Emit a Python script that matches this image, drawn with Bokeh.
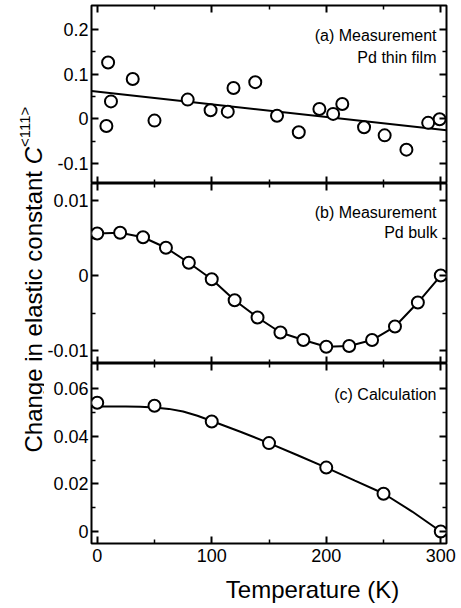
import math
from bokeh.plotting import figure
from bokeh.layouts import column, row
from bokeh.models import Range1d, LinearAxis, Label, FixedTicker
from bokeh.embed import file_html
from bokeh.resources import INLINE

FONT = "Liberation Sans"

# ---------------- data ----------------
film_t = [8, 9.5, 12, 31, 50, 79, 99, 114, 119, 138, 157, 176, 194, 206, 214, 233, 251, 270, 289, 299]
film_v = [-0.016, 0.126, 0.039, 0.089, -0.004, 0.043, 0.019, 0.016, 0.069, 0.082,
          0.007, -0.030, 0.022, 0.011, 0.033, -0.019, -0.037, -0.069, -0.009, -0.001]
fit_t = [-5, 305]
fit_v = [0.062, -0.0255]

bulk_t = [0, 20, 40, 60, 80, 100, 120, 140, 160, 180, 200, 220, 240, 260, 280, 300]
bulk_v = [0.0056, 0.0057, 0.0051, 0.0037, 0.0017, -0.0005, -0.0033, -0.0056,
          -0.0076, -0.0086, -0.0095, -0.0094, -0.0086, -0.0068, -0.0036, 0.0]

calc_t = [0, 50, 100, 150, 200, 250, 300]
calc_v = [0.0542, 0.0529, 0.0463, 0.0372, 0.0269, 0.0159, 0.0]
curve_t = [0, 25, 37.5, 50, 62.5, 75, 87.5, 100, 125, 150, 175, 200, 225, 250, 275, 300]
curve_v = [0.0526, 0.0526, 0.0525, 0.0522, 0.0516, 0.0505, 0.0487, 0.0465, 0.0420,
           0.0372, 0.0321, 0.0269, 0.0214, 0.0160, 0.0084, 0.0]

x_ticks = [0, 100, 200, 300]
x_tick_labels = ["0", "100", "200", "300"]
x_minor = [50, 150, 250]

a_ticks = [-0.1, 0, 0.1, 0.2]
a_tick_labels = ["-0.1", "0", "0.1", "0.2"]
a_minor = [-0.05, 0.05, 0.15]

b_ticks = [-0.01, 0, 0.01]
b_tick_labels = ["-0.01", "0", "0.01"]
b_minor = [-0.005, 0.005]

c_ticks = [0, 0.02, 0.04, 0.06]
c_tick_labels = ["0", "0.02", "0.04", "0.06"]
c_minor = [0.01, 0.03, 0.05]

x_label = "Temperature (K)"
y_label_main = "Change in elastic constant "
y_label_sym = "C"
y_label_sup = "<111>"

# ---------------- layout constants ----------------
FRAME_W = 356
LEFT = 46
RIGHT = 10
STRIP_W = 44
TOTAL_H = 607
TICK_FS = "18px"
ANN_FS = "16px"
MAJ_LEN = 7
MIN_LEN = 4


def base_axis(ax):
    ax.axis_line_color = None
    ax.major_tick_out = 0
    ax.minor_tick_out = 0
    ax.major_tick_line_width = 2
    ax.major_tick_line_color = "black"
    ax.minor_tick_line_color = "black"
    ax.major_label_text_font = FONT
    ax.major_label_text_color = "black"


def labeled_axis(ticks, minor, labels, standoff):
    ax = LinearAxis(ticker=FixedTicker(ticks=ticks, minor_ticks=minor))
    base_axis(ax)
    ax.major_tick_in = MAJ_LEN
    ax.minor_tick_in = MIN_LEN
    ax.minor_tick_line_width = 1.5
    ax.major_label_text_font_size = TICK_FS
    ax.major_label_standoff = standoff
    ax.major_label_overrides = {t: l for t, l in zip(ticks, labels)}
    return ax


def tick_only_axes(ticks, minor):
    # label-free axes: tick marks given as minor ticks (major list empty)
    out = []
    for pos, length, lw in ((ticks, MAJ_LEN, 2), (minor, MIN_LEN, 1.5)):
        ax = LinearAxis(ticker=FixedTicker(ticks=[], minor_ticks=pos))
        base_axis(ax)
        ax.major_tick_in = 0
        ax.minor_tick_in = length
        ax.minor_tick_line_width = lw
        ax.major_label_standoff = 0
        out.append(ax)
    return out


def make_panel(height, y0, y1, yt, ylab, ymin, top_border, bottom_border, show_x):
    p = figure(width=LEFT + FRAME_W + RIGHT, height=height,
               x_range=Range1d(-5, 305), y_range=Range1d(y0, y1),
               toolbar_location=None, output_backend="svg",
               x_axis_location=None, y_axis_location=None,
               min_border_left=LEFT, min_border_right=RIGHT,
               min_border_top=top_border, min_border_bottom=bottom_border)
    p.grid.visible = False
    p.outline_line_color = "black"
    p.outline_line_width = 2
    p.outline_line_alpha = 1
    p.background_fill_color = "white"
    p.border_fill_color = "white"

    p.add_layout(labeled_axis(yt, ymin, ylab, 3), "left")
    for ax in tick_only_axes(yt, ymin):
        p.add_layout(ax, "right")
    for ax in tick_only_axes(x_ticks, x_minor):
        p.add_layout(ax, "above")
    if show_x:
        p.add_layout(labeled_axis(x_ticks, x_minor, x_tick_labels, 5), "below")
    else:
        for ax in tick_only_axes(x_ticks, x_minor):
            p.add_layout(ax, "below")
    return p


def ann(p, text, x, y):
    p.add_layout(Label(x=x, y=y, x_units="screen", y_units="screen", text=text,
                       text_align="right", text_baseline="alphabetic",
                       text_font=FONT, text_font_size=ANN_FS, text_color="black"))


# panel (a)
pa = make_panel(183, -0.1447, 0.2535, a_ticks, a_tick_labels, a_minor, 5, 0, False)
pa.line(fit_t, fit_v, line_color="black", line_width=2)
pa.scatter(film_t, film_v, marker="circle", size=12, fill_color="white",
           line_color="black", line_width=2)
ann(pa, "(a) Measurement", 345, 148)
ann(pa, "Pd thin film", 345, 126)

# panel (b)
pb = make_panel(180, -0.01173, 0.01227, b_ticks, b_tick_labels, b_minor, 0, 0, False)
pb.line(bulk_t, bulk_v, line_color="black", line_width=2)
pb.scatter(bulk_t, bulk_v, marker="circle", size=12, fill_color="white",
           line_color="black", line_width=2)
ann(pb, "(b) Measurement", 345, 151)
ann(pb, "Pd bulk", 346, 131)

# panel (c)
pc = make_panel(207, -0.00505, 0.0707, c_ticks, c_tick_labels, c_minor, 0, 27, True)
pc.line(curve_t, curve_v, line_color="black", line_width=2)
pc.scatter(calc_t, calc_v, marker="circle", size=12, fill_color="white",
           line_color="black", line_width=2)
ann(pc, "(c) Calculation", 345, 148.7)

# x-axis title strip
PX_H = TOTAL_H - 183 - 180 - 207
px = figure(width=LEFT + FRAME_W + RIGHT, height=PX_H, x_range=Range1d(0, 1), y_range=Range1d(0, 1),
            toolbar_location=None, output_backend="svg",
            x_axis_location=None, y_axis_location=None, min_border=0)
px.grid.visible = False
px.outline_line_color = None
px.border_fill_color = "white"
px.background_fill_color = "white"
px.add_layout(Label(x=LEFT + 175, y=18, x_units="screen", y_units="screen", text=x_label,
                    text_align="center", text_baseline="alphabetic",
                    text_font=FONT, text_font_size="24px", text_color="black"))

# y-axis title strip
py = figure(width=STRIP_W, height=TOTAL_H, x_range=Range1d(0, 1), y_range=Range1d(0, 1),
            toolbar_location=None, output_backend="svg",
            x_axis_location=None, y_axis_location=None, min_border=0)
py.grid.visible = False
py.outline_line_color = None
py.border_fill_color = "white"
py.background_fill_color = "white"
ys = TOTAL_H - 452
main_w = 12.006 * 24
py.add_layout(Label(x=33, y=ys, x_units="screen", y_units="screen", text=y_label_main,
                    angle=math.pi / 2, text_align="left", text_baseline="alphabetic",
                    text_font=FONT, text_font_size="24px", text_color="black"))
py.add_layout(Label(x=33, y=ys + main_w, x_units="screen", y_units="screen", text=y_label_sym,
                    angle=math.pi / 2, text_align="left", text_baseline="alphabetic",
                    text_font=FONT, text_font_size="24px", text_font_style="italic",
                    text_color="black"))
py.add_layout(Label(x=24, y=ys + main_w + 0.722 * 24, x_units="screen", y_units="screen",
                    text=y_label_sup, angle=math.pi / 2, text_align="left",
                    text_baseline="alphabetic", text_font=FONT, text_font_size="15px",
                    text_color="black"))

layout = row(py, column(pa, pb, pc, px))
open("out.html", "w").write(file_html(layout, INLINE))
